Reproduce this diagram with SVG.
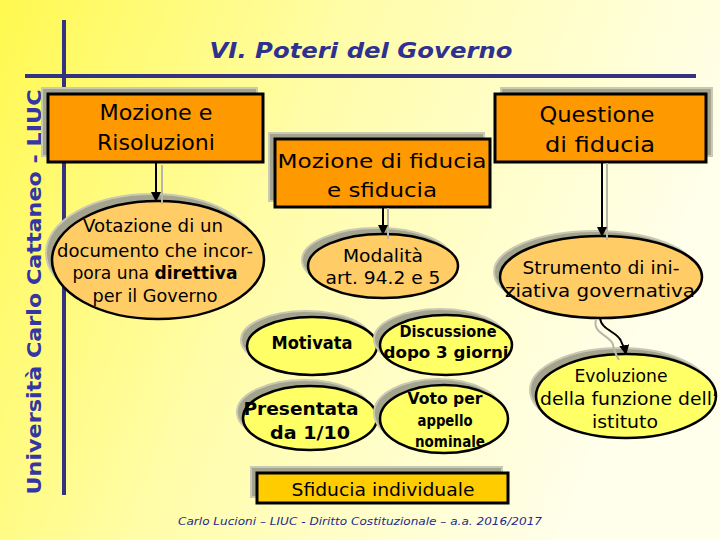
<svg xmlns="http://www.w3.org/2000/svg" width="720" height="540" viewBox="0 0 720 540">
<defs>
<linearGradient id="bg" x1="0" y1="0" x2="1" y2="0.3">
<stop offset="0" stop-color="#FFF950"/>
<stop offset="0.45" stop-color="#FFFDA8"/>
<stop offset="1" stop-color="#FFFFEC"/>
</linearGradient>
<marker id="ah" viewBox="0 0 10 10" refX="9" refY="5" markerWidth="5" markerHeight="5" orient="auto">
<path d="M0,0 L10,5 L0,10 z" fill="#000"/>
</marker>
</defs>
<style>
.t{font-family:"DejaVu Sans","Liberation Sans",sans-serif;fill:#000;text-anchor:middle}
.b{font-weight:bold}
.box{fill:#FF9900;stroke:#000;stroke-width:3}
.sh{fill:#A3A38E;stroke:#C9C9B4;stroke-width:2}
.e1{fill:#FFCC66;stroke:#000;stroke-width:2.5}
.e2{fill:#FFFF66;stroke:#000;stroke-width:2.5}
.sl{stroke:#B8B8A8;stroke-width:2;fill:none}
.cl{stroke:#000;stroke-width:2;fill:none}
</style>
<rect width="720" height="540" fill="url(#bg)"/>
<line x1="64" y1="20" x2="64" y2="495" stroke="#333380" stroke-width="4"/>
<line x1="25" y1="76" x2="696" y2="76" stroke="#333380" stroke-width="4"/>
<text x="361" y="58" font-family="DejaVu Sans, sans-serif" font-size="22" font-weight="bold" font-style="italic" fill="#2E3190" text-anchor="middle" textLength="303" lengthAdjust="spacingAndGlyphs">VI. Poteri del Governo</text>
<text transform="translate(41,292) rotate(-90)" font-family="DejaVu Sans, sans-serif" font-size="19" font-weight="bold" fill="#3535A5" text-anchor="middle" textLength="405" lengthAdjust="spacingAndGlyphs">Università Carlo Cattaneo - LIUC</text>

<g id="n-mozione-risoluzioni">
<rect class="sh" x="42" y="88" width="215" height="68"/>
<rect class="box" x="48" y="94" width="215" height="68"/>
<text class="t" x="156" y="120" font-size="21" textLength="113" lengthAdjust="spacingAndGlyphs">Mozione e</text>
<text class="t" x="156" y="150" font-size="21" textLength="118" lengthAdjust="spacingAndGlyphs">Risoluzioni</text>
</g>
<g id="n-mozione-fiducia">
<rect class="sh" x="269" y="133" width="215" height="68"/>
<rect class="box" x="275" y="139" width="215" height="68"/>
<text class="t" x="382" y="168" font-size="20" textLength="209" lengthAdjust="spacingAndGlyphs">Mozione di fiducia</text>
<text class="t" x="382" y="197" font-size="20" textLength="110" lengthAdjust="spacingAndGlyphs">e sfiducia</text>
</g>
<g id="n-questione">
<rect class="sh" x="501" y="88" width="211" height="68"/>
<rect class="box" x="495" y="94" width="211" height="68"/>
<text class="t" x="597" y="122" font-size="21" textLength="115" lengthAdjust="spacingAndGlyphs">Questione</text>
<text class="t" x="600" y="152" font-size="21" textLength="110" lengthAdjust="spacingAndGlyphs">di fiducia</text>
</g>
<g id="n-votazione">
<ellipse class="sh" cx="152" cy="253" rx="106" ry="59"/>
<ellipse class="e1" cx="158" cy="260" rx="106" ry="59"/>
<text class="t" x="153" y="232" font-size="17" textLength="140" lengthAdjust="spacingAndGlyphs">Votazione di un</text>
<text class="t" x="155" y="257" font-size="17" textLength="196" lengthAdjust="spacingAndGlyphs">documento che incor-</text>
<text class="t" x="155" y="279" font-size="17" textLength="165" lengthAdjust="spacingAndGlyphs">pora una <tspan font-weight="bold">direttiva</tspan></text>
<text class="t" x="155" y="302" font-size="17" textLength="125" lengthAdjust="spacingAndGlyphs">per il Governo</text>
</g>
<g id="n-modalita">
<ellipse class="sh" cx="377" cy="260" rx="75" ry="32"/>
<ellipse class="e1" cx="383" cy="266" rx="75" ry="32"/>
<text class="t" x="383" y="262" font-size="17" textLength="80" lengthAdjust="spacingAndGlyphs">Modalità</text>
<text class="t" x="383" y="284" font-size="17" textLength="115" lengthAdjust="spacingAndGlyphs">art. 94.2 e 5</text>
</g>
<g id="n-strumento">
<ellipse class="sh" cx="595" cy="272" rx="101" ry="41"/>
<ellipse class="e1" cx="601" cy="277" rx="101" ry="41"/>
<text class="t" x="601" y="274" font-size="17" textLength="157" lengthAdjust="spacingAndGlyphs">Strumento di ini-</text>
<text class="t" x="600" y="297" font-size="17" textLength="190" lengthAdjust="spacingAndGlyphs">ziativa governativa</text>
</g>
<g id="n-motivata">
<ellipse class="sh" cx="306" cy="340" rx="65" ry="29"/>
<ellipse class="e2" cx="312" cy="346" rx="65" ry="29"/>
<text class="t b" x="312" y="349" font-size="17" textLength="81" lengthAdjust="spacingAndGlyphs">Motivata</text>
</g>
<g id="n-discussione">
<ellipse class="sh" cx="440" cy="339" rx="66" ry="30"/>
<ellipse class="e2" cx="446" cy="345" rx="66" ry="30"/>
<text class="t b" x="448" y="337" font-size="15" textLength="97" lengthAdjust="spacingAndGlyphs">Discussione</text>
<text class="t b" x="446" y="358" font-size="15" textLength="125" lengthAdjust="spacingAndGlyphs">dopo 3 giorni</text>
</g>
<g id="n-presentata">
<ellipse class="sh" cx="304" cy="412" rx="67" ry="32"/>
<ellipse class="e2" cx="310" cy="418" rx="67" ry="32"/>
<text class="t b" x="301" y="415" font-size="17" textLength="115" lengthAdjust="spacingAndGlyphs">Presentata</text>
<text class="t b" x="310" y="439" font-size="17" textLength="80" lengthAdjust="spacingAndGlyphs">da 1/10</text>
</g>
<g id="n-voto">
<ellipse class="sh" cx="438" cy="413" rx="64" ry="34"/>
<ellipse class="e2" cx="444" cy="419" rx="64" ry="34"/>
<text class="t b" x="445" y="404" font-size="15" textLength="75" lengthAdjust="spacingAndGlyphs">Voto per</text>
<text class="t b" x="445" y="426" font-size="15" textLength="55" lengthAdjust="spacingAndGlyphs">appello</text>
<text class="t b" x="450" y="447" font-size="15" textLength="70" lengthAdjust="spacingAndGlyphs">nominale</text>
</g>
<g id="n-evoluzione">
<ellipse class="sh" cx="620" cy="390" rx="90" ry="42"/>
<ellipse class="e2" cx="626" cy="396" rx="90" ry="42"/>
<text class="t" x="621" y="382" font-size="17" textLength="93" lengthAdjust="spacingAndGlyphs">Evoluzione</text>
<text class="t" x="629" y="405" font-size="17" textLength="178" lengthAdjust="spacingAndGlyphs">della funzione dell’</text>
<text class="t" x="625" y="428" font-size="17" textLength="66" lengthAdjust="spacingAndGlyphs">istituto</text>
</g>
<g id="n-sfiducia-individuale">
<rect class="sh" x="251" y="467" width="251" height="30"/>
<rect fill="#FFCC00" stroke="#000" stroke-width="3" x="257" y="473" width="251" height="30"/>
<text class="t" x="383" y="496" font-size="18" textLength="183" lengthAdjust="spacingAndGlyphs">Sfiducia individuale</text>
</g>

<g id="connectors">
<line class="sl" x1="162" y1="165" x2="162" y2="204"/>
<line class="cl" x1="156" y1="163" x2="156" y2="201" marker-end="url(#ah)"/>
<line class="sl" x1="388" y1="208" x2="388" y2="239"/>
<line class="cl" x1="383" y1="208" x2="383" y2="234" marker-end="url(#ah)"/>
<line class="sl" x1="607" y1="163" x2="607" y2="240"/>
<line class="cl" x1="602" y1="163" x2="602" y2="236" marker-end="url(#ah)"/>
<path class="sl" d="M596,320 C592,334 612,336 613,345 C614,352 617,356 619,360"/>
<path class="cl" d="M600,318 C601,330 618,332 621,341 C623,346 625,349 626,354" marker-end="url(#ah)"/>
</g>

<text x="360" y="525" font-family="DejaVu Sans, sans-serif" font-size="11" font-style="italic" fill="#1F2A8A" text-anchor="middle" textLength="364" lengthAdjust="spacingAndGlyphs">Carlo Lucioni – LIUC - Diritto Costituzionale – a.a. 2016/2017</text>
</svg>
